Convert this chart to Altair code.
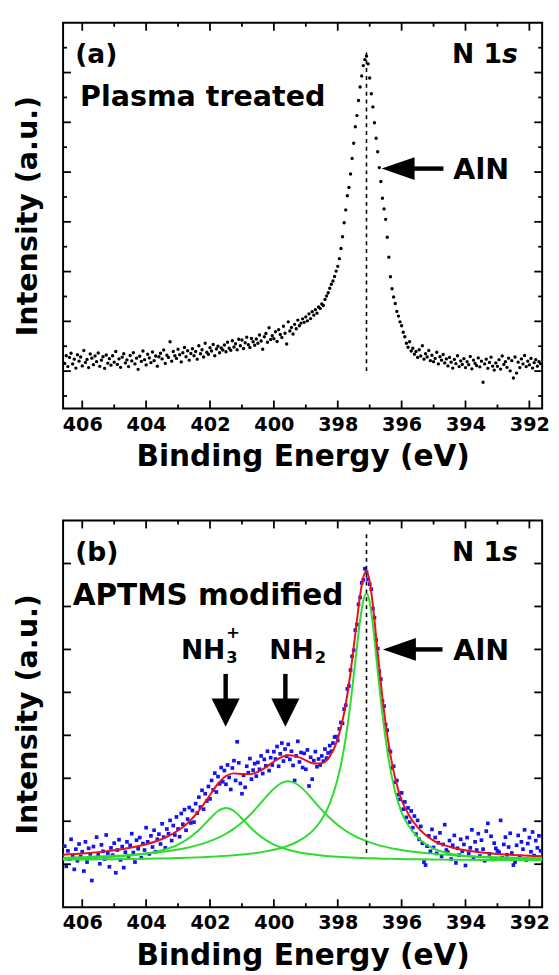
import altair as alt
import pandas as pd

FONT = "DejaVu Sans"

# ------------------------------------------------------------------ data
# spectra sampled every 0.05 eV starting at 406.55 eV (descending)
E_START = 406.55
E_STEP = 0.05

top_intensity = [
    2.31, 2.62, 2.18, 2.55, 2.72, 2.29, 2.48, 2.12, 2.66, 2.40,
    2.57, 2.21, 2.83, 2.35, 2.47, 2.14, 2.69, 2.52, 2.26, 2.61,
    2.38, 2.73, 2.19, 2.44, 2.58, 2.11, 2.65, 2.32, 2.50, 2.24,
    2.62, 2.36, 2.79, 2.27, 2.49, 2.15, 2.56, 2.70, 2.33, 2.45,
    2.18, 2.63, 2.41, 2.74, 2.29, 2.52, 2.07, 2.60, 2.39, 2.81,
    2.46, 2.25, 2.68, 2.53, 2.34, 2.77, 2.42, 2.61, 2.20, 2.58,
    2.72, 2.49, 2.85, 2.31, 2.64, 2.55, 3.18, 2.40, 2.79, 2.62,
    2.51, 2.88, 2.66, 2.37, 2.74, 2.95, 2.58, 2.82, 2.44, 2.71,
    2.90, 2.62, 2.79, 2.48, 3.02, 2.70, 2.86, 2.57, 3.12, 2.76,
    2.68, 2.94, 2.81, 3.07, 2.62, 2.89, 3.00, 2.74, 2.93, 2.85,
    3.05, 2.78, 3.16, 2.92, 2.84, 3.22, 2.97, 3.10, 2.86, 3.28,
    3.02, 3.25, 2.91, 3.14, 3.36, 3.06, 2.95, 3.31, 3.18, 3.04,
    3.29, 3.12, 3.45, 3.21, 2.88, 3.38, 3.51, 3.16, 3.74, 3.27,
    3.42, 3.30, 3.58, 3.19, 3.66, 3.47, 3.35, 3.80, 3.52, 3.09,
    3.98, 3.61, 3.75, 3.49, 3.88, 3.70, 4.05, 3.82, 3.93, 4.10,
    3.96, 4.18, 4.02, 4.30, 4.11, 4.39, 4.25, 4.47, 4.33, 4.58,
    4.52, 4.70, 4.64, 4.88, 5.02, 5.15, 5.33, 5.49, 5.62, 5.80,
    6.02, 6.21, 6.52, 6.93, 7.40, 7.96, 8.48, 9.05, 9.38, 9.92,
    10.55, 11.16, 11.82, 12.27, 12.88, 13.42, 13.86, 14.28, 14.52, 14.66,
    14.35, 13.78, 13.15, 12.62, 11.98, 11.36, 10.82, 10.18, 9.62, 8.95,
    8.52, 8.10, 7.38, 6.58, 5.79, 5.31, 4.98, 4.72, 4.40, 4.21,
    3.98, 3.82, 3.56, 3.38, 3.12, 2.96, 3.18, 2.81, 2.92, 2.68,
    2.79, 2.55, 2.86, 2.61, 3.02, 2.48, 2.70, 2.57, 2.83, 2.42,
    2.64, 2.38, 2.51, 2.76, 2.29, 2.58, 2.44, 2.67, 2.33, 2.49,
    2.21, 2.55, 2.36, 2.12, 2.47, 2.30, 2.62, 2.18, 2.41, 2.27,
    2.50, 2.14, 2.38, 2.26, 2.59, 2.09, 2.44, 2.31, 2.22, 2.53,
    2.17, 2.40, 1.55, 2.29, 2.48, 2.11, 2.35, 2.56, 2.20, 2.04,
    2.33, 2.19, 2.46, 2.08, 2.61, 2.27, 2.38, 2.15, 2.52, 2.01,
    2.42, 1.72, 2.57, 1.92, 2.36, 2.14, 2.49, 2.29, 2.63, 2.18,
    2.40, 2.25, 2.51, 2.12, 2.34, 2.46, 2.20, 2.38, 2.30,
]

bottom_intensity = [
    1.42, 0.95, 1.31, 1.12, 1.58, 1.20, 0.88, 1.35, 1.08, 1.47,
    1.18, 1.29, 0.84, 1.52, 1.05, 1.37, 1.24, 0.62, 1.41, 1.15,
    1.63, 1.22, 1.01, 1.45, 1.30, 1.12, 1.68, 1.26, 0.94, 1.38,
    1.21, 1.49, 0.80, 1.33, 1.57, 1.10, 1.41, 0.92, 1.28, 1.52,
    1.19, 1.44, 1.71, 1.27, 1.05, 1.56, 1.36, 1.62, 1.15, 1.48,
    1.33, 1.85, 1.52, 1.24, 1.66, 1.40, 1.79, 1.29, 1.58, 1.70,
    1.47, 1.94, 1.63, 1.38, 1.82, 1.71, 2.02, 1.55, 1.90, 1.68,
    2.10, 1.82, 1.64, 2.18, 1.93, 2.27, 1.79, 2.05, 2.32, 1.96,
    2.25, 1.98, 2.41, 2.19, 2.56, 2.33, 2.72, 2.28, 2.64, 2.47,
    2.81, 2.52, 2.95, 2.73, 3.12, 2.68, 3.04, 2.87, 3.25, 2.92,
    3.18, 2.86, 3.31, 3.02, 2.74, 3.24, 3.41, 2.95, 3.85, 3.36,
    2.88, 2.64, 3.07, 2.79, 3.28, 3.13, 3.46, 2.98, 3.19, 3.34,
    3.05, 3.37, 3.21, 3.52, 3.11, 3.44, 3.29, 3.63, 3.18, 3.48,
    3.31, 3.62, 3.45, 3.74, 3.28, 3.57, 3.82, 3.40, 3.68, 3.51,
    3.79, 3.44, 3.63, 3.30, 2.95, 3.52, 3.86, 3.38, 3.60, 3.25,
    3.58, 3.21, 3.66, 2.82, 3.49, 2.98, 3.41, 3.62, 3.27, 3.45,
    3.31, 3.52, 3.40, 3.68, 3.47, 3.59, 3.76, 3.63, 3.82, 3.96,
    3.97, 3.88, 4.15, 4.30, 4.28, 4.61, 4.70, 5.08, 5.15, 5.52,
    5.84, 5.98, 6.45, 6.58, 7.05, 7.21, 7.55, 7.62, 7.88, 7.80,
    7.63, 7.52, 7.40, 6.95, 6.74, 6.22, 6.02, 5.49, 5.31, 4.80,
    4.68, 4.25, 4.12, 3.65, 3.62, 3.24, 3.28, 2.91, 2.95, 2.62,
    2.51, 2.66, 2.28, 2.45, 2.09, 2.31, 1.98, 2.24, 1.85, 2.12,
    1.70, 2.02, 1.58, 1.88, 1.49, 1.05, 0.98, 1.42, 1.66, 1.30,
    1.81, 1.39, 1.62, 1.25, 1.50, 1.73, 1.18, 1.46, 1.92, 1.33,
    1.28, 1.55, 1.12, 1.44, 1.67, 1.03, 1.37, 1.21, 1.58, 1.30,
    1.46, 0.97, 1.62, 1.25, 1.38, 1.80, 1.14, 1.52, 1.33, 1.71,
    1.19, 1.56, 1.35, 1.08, 1.77, 1.95, 1.24, 1.65, 1.11, 1.49,
    1.37, 1.31, 1.28, 2.02, 1.15, 1.46, 1.63, 1.22, 1.40, 1.72,
    1.26, 0.98, 1.05, 1.44, 1.67, 1.18, 1.52, 1.35, 1.80, 1.10,
    1.48, 1.62, 1.29, 1.75, 1.20, 1.55, 1.38, 1.66, 1.31,
]

# fitted curves of panel (b)
fit_energy = [406.6, 406.0, 405.5, 405.0, 404.5, 404.0, 403.5, 403.0, 402.75, 402.5,
              402.25, 402.0, 401.75, 401.5, 401.25, 401.0, 400.75, 400.5, 400.25, 400.0,
              399.75, 399.55, 399.3, 399.0, 398.75, 398.5, 398.25, 398.0, 397.8, 397.6,
              397.45, 397.3, 397.2, 397.1, 397.0, 396.9, 396.75, 396.6, 396.4, 396.2,
              396.0, 395.75, 395.5, 395.0, 394.5, 394.0, 393.5, 393.0, 392.5, 392.0, 391.6]
fit_nh3 = [1.126, 1.138, 1.152, 1.173, 1.203, 1.250, 1.326, 1.458, 1.560, 1.695,
           1.867, 2.064, 2.238, 2.310, 2.238, 2.064, 1.867, 1.695, 1.560, 1.458,
           1.383, 1.336, 1.291, 1.250, 1.224, 1.203, 1.186, 1.173, 1.164, 1.156,
           1.151, 1.146, 1.143, 1.140, 1.138, 1.136, 1.132, 1.129, 1.126, 1.122,
           1.119, 1.116, 1.113, 1.108, 1.105, 1.102, 1.099, 1.097, 1.095, 1.094, 1.092]
fit_nh2 = [1.150, 1.163, 1.177, 1.195, 1.217, 1.247, 1.287, 1.342, 1.377, 1.420,
           1.472, 1.536, 1.613, 1.709, 1.828, 1.972, 2.146, 2.347, 2.560, 2.757,
           2.893, 2.930, 2.873, 2.683, 2.474, 2.264, 2.074, 1.911, 1.802, 1.709,
           1.649, 1.596, 1.565, 1.536, 1.508, 1.484, 1.450, 1.420, 1.385, 1.355,
           1.329, 1.301, 1.278, 1.240, 1.212, 1.191, 1.174, 1.161, 1.150, 1.142, 1.136]
fit_aln = [1.105, 1.108, 1.112, 1.116, 1.121, 1.127, 1.134, 1.144, 1.149, 1.156,
           1.163, 1.172, 1.182, 1.194, 1.208, 1.224, 1.244, 1.268, 1.298, 1.335,
           1.383, 1.432, 1.511, 1.644, 1.806, 2.045, 2.411, 2.994, 3.714, 4.752,
           5.721, 6.678, 7.132, 7.300, 7.101, 6.575, 5.507, 4.486, 3.410, 2.680,
           2.200, 1.860, 1.630, 1.360, 1.250, 1.190, 1.160, 1.140, 1.130, 1.120, 1.115]
fit_total = [1.221, 1.249, 1.281, 1.324, 1.381, 1.464, 1.587, 1.784, 1.926, 2.111,
             2.342, 2.612, 2.873, 3.053, 3.114, 3.100, 3.097, 3.150, 3.258, 3.390,
             3.499, 3.538, 3.515, 3.417, 3.344, 3.352, 3.511, 3.918, 4.520, 5.457,
             6.361, 7.260, 7.680, 7.816, 7.587, 7.035, 5.929, 4.875, 3.761, 2.997,
             2.488, 2.117, 1.861, 1.548, 1.407, 1.323, 1.273, 1.238, 1.215, 1.196, 1.183]

# ticks
x_major = [406, 404, 402, 400, 398, 396, 394, 392]
x_minor = [405, 403, 401, 399, 397, 395, 393]
top_y_major = [2, 4, 6, 8, 10, 12, 14]
top_y_minor = [1, 3, 5, 7, 9, 11, 13, 15]
bot_y_major = [1, 2, 3, 4, 5, 6, 7, 8]

# reference line (AlN position)
aln_position = 397.1
top_dash = [2.0, 14.88]
bot_dash = [1.26, 8.75]

# annotations (data coordinates)
top_tag = {"label": ["(a)"], "x": [406.22], "y": [14.38]}
top_core = {"label": ["N 1"], "x": [392.86], "y": [14.38]}
top_italic = {"label": ["s"], "x": [392.86], "y": [14.38]}
top_names = {"label": ["Plasma treated", "AlN"], "x": [406.07, 394.38], "y": [12.64, 9.73]}
top_arrow = {"head_x": [396.11], "head_y": [10.14], "shaft_x": [395.62], "shaft_x2": [394.69]}

bot_tag = {"label": ["(b)"], "x": [406.22], "y": [8.06]}
bot_core = {"label": ["N 1"], "x": [392.86], "y": [8.06]}
bot_italic = {"label": ["s"], "x": [392.86], "y": [8.06]}
bot_sample = {"label": ["APTMS modified"], "x": [406.30], "y": [7.03]}
bot_aln = {"label": ["AlN"], "x": [394.38], "y": [5.76]}
bot_groups = {"label": ["NH", "NH"], "x": [401.52, 398.75], "y": [5.77, 5.77]}
bot_small = {"label": ["3", "+", "2"], "x": [401.49, 401.49, 398.72], "y": [5.68, 6.27, 5.68]}
bot_arrow = {"head_x": [396.07], "head_y": [6.0], "shaft_x": [395.58], "shaft_x2": [394.72]}
down_arrows = {"x": [401.51, 399.64], "shaft_y": [5.43, 5.43], "shaft_y2": [4.80, 4.80], "head_y": [4.53, 4.53]}

# ------------------------------------------------------------------ chart
W = 487
H_TOP = 392
H_BOT = 393

xscale = alt.Scale(domain=[391.6, 406.6], reverse=True, nice=False, zero=False)
yscale_top = alt.Scale(domain=[0.5, 16.0], nice=False, zero=False)
yscale_bot = alt.Scale(domain=[0.0, 9.0], nice=False, zero=False)

x_axis = alt.Axis(values=x_major, format="d", ticks=False, tickSize=0, domain=False, grid=False,
                  labelPadding=7, labelFontSize=19.5, labelFont=FONT, labelFontWeight="bold",
                  labelColor="black", labelFlush=False,
                  title="Binding Energy (eV)", titleFont=FONT, titleFontSize=30,
                  titleFontWeight="bold", titleColor="black", titlePadding=9)
y_axis = alt.Axis(labels=False, ticks=False, tickSize=0, domain=False, grid=False,
                  title="Intensity (a.u.)", titleFont=FONT, titleFontSize=29,
                  titleFontWeight="bold", titleColor="black", titlePadding=21)


def X(field):
    return alt.X(field, type="quantitative", scale=xscale, axis=x_axis)


def Y(field, yscale):
    return alt.Y(field, type="quantitative", scale=yscale, axis=y_axis)


def energies(n):
    return [round(E_START - E_STEP * i, 2) for i in range(n)]


def tick_layers(yscale, y_major, y_minor, H):
    layers = []
    for vals, L in ((x_major, 8), (x_minor, 4)):
        base = alt.Chart(pd.DataFrame({"t": vals})).mark_rule(color="black", strokeWidth=1.8)
        layers.append(base.encode(x=X("t"), y=alt.value(H), y2=alt.value(H - L)))
        layers.append(base.encode(x=X("t"), y=alt.value(0), y2=alt.value(L)))
    for vals, L in ((y_major, 8), (y_minor, 4)):
        if not vals:
            continue
        base = alt.Chart(pd.DataFrame({"t": vals})).mark_rule(color="black", strokeWidth=1.8)
        layers.append(base.encode(y=Y("t", yscale), x=alt.value(0), x2=alt.value(L)))
        layers.append(base.encode(y=Y("t", yscale), x=alt.value(W), x2=alt.value(W - L)))
    return layers


def text_layer(d, yscale, size, align="left", style="normal"):
    return alt.Chart(pd.DataFrame(d)).mark_text(
        align=align, baseline="alphabetic", font=FONT, fontSize=size,
        fontWeight="bold", fontStyle=style, color="black"
    ).encode(x=X("x"), y=Y("y", yscale), text="label:N")


def left_arrow(d, yscale):
    df = pd.DataFrame(d)
    shaft = alt.Chart(df).mark_rule(color="black", strokeWidth=4.5).encode(
        x=X("shaft_x"), x2="shaft_x2:Q", y=Y("head_y", yscale))
    head = alt.Chart(df).mark_point(shape="M-1,0L1,-0.69L1,0.69Z", size=1122, filled=True,
                                    color="black", opacity=1, strokeWidth=0).encode(
        x=X("head_x"), y=Y("head_y", yscale))
    return [shaft, head]


def dashed(ys, yscale):
    df = pd.DataFrame({"x": [aln_position], "y": [ys[0]], "y2": [ys[1]]})
    return alt.Chart(df).mark_rule(color="black", strokeWidth=1.6, strokeDash=[4, 4]).encode(
        x=X("x"), y=Y("y", yscale), y2="y2:Q")


# ---- panel (a)
top_df = pd.DataFrame({"energy": energies(len(top_intensity)), "intensity": top_intensity})
top_points = alt.Chart(top_df).mark_circle(size=12, color="black", opacity=1).encode(
    x=X("energy"), y=Y("intensity", yscale_top))
top_layers = [top_points, dashed(top_dash, yscale_top)]
top_layers += tick_layers(yscale_top, top_y_major, top_y_minor, H_TOP)
top_layers += left_arrow(top_arrow, yscale_top)
top_layers += [
    text_layer(top_tag, yscale_top, 27, "left"),
    text_layer(top_core, yscale_top, 27, "right"),
    text_layer(top_italic, yscale_top, 27, "left", "italic"),
    text_layer(top_names, yscale_top, 29, "left"),
]
top_chart = alt.layer(*top_layers).properties(width=W, height=H_TOP)

# ---- panel (b)
bot_df = pd.DataFrame({"energy": energies(len(bottom_intensity)), "intensity": bottom_intensity})
bot_points = alt.Chart(bot_df).mark_square(size=14, color="#1414f0", opacity=1).encode(
    x=X("energy"), y=Y("intensity", yscale_bot))
comp_rows = []
for name, vals in (("NH3+", fit_nh3), ("NH2", fit_nh2), ("AlN", fit_aln)):
    for i, (e, v) in enumerate(zip(fit_energy, vals)):
        comp_rows.append({"component": name, "idx": i, "energy": e, "value": v})
comp_df = pd.DataFrame(comp_rows)
greens = alt.Chart(comp_df).mark_line(color="#2edc2e", strokeWidth=2, interpolate="monotone").encode(
    x=X("energy"), y=Y("value", yscale_bot), detail="component:N", order="idx:Q")
total_df = pd.DataFrame({"idx": range(len(fit_energy)), "energy": fit_energy, "value": fit_total})
red = alt.Chart(total_df).mark_line(color="#e8101a", strokeWidth=2, interpolate="monotone").encode(
    x=X("energy"), y=Y("value", yscale_bot), order="idx:Q")
down_df = pd.DataFrame(down_arrows)
down_shaft = alt.Chart(down_df).mark_rule(color="black", strokeWidth=4.5).encode(
    x=X("x"), y=Y("shaft_y", yscale_bot), y2="shaft_y2:Q")
down_head = alt.Chart(down_df).mark_point(shape="M0,1L-1,-1L1,-1Z", size=818, filled=True,
                                          color="black", opacity=1, strokeWidth=0).encode(
    x=X("x"), y=Y("head_y", yscale_bot))

bot_layers = [bot_points, greens, red, dashed(bot_dash, yscale_bot)]
bot_layers += tick_layers(yscale_bot, bot_y_major, [], H_BOT)
bot_layers += left_arrow(bot_arrow, yscale_bot)
bot_layers += [down_shaft, down_head]
bot_layers += [
    text_layer(bot_tag, yscale_bot, 27, "left"),
    text_layer(bot_core, yscale_bot, 27, "right"),
    text_layer(bot_italic, yscale_bot, 27, "left", "italic"),
    text_layer(bot_sample, yscale_bot, 30, "left"),
    text_layer(bot_aln, yscale_bot, 29, "left"),
    text_layer(bot_groups, yscale_bot, 27, "right"),
    text_layer(bot_small, yscale_bot, 16.5, "left"),
]
bot_chart = alt.layer(*bot_layers).properties(width=W, height=H_BOT)

chart = alt.vconcat(top_chart, bot_chart, spacing=46).properties(
    padding={"left": 5, "top": 5, "right": 0, "bottom": 0}
).configure(
    background="white",
    view=alt.ViewConfig(stroke="black", strokeWidth=2),
)

chart.save("out.html", embed_options={"renderer": "svg", "actions": False})
